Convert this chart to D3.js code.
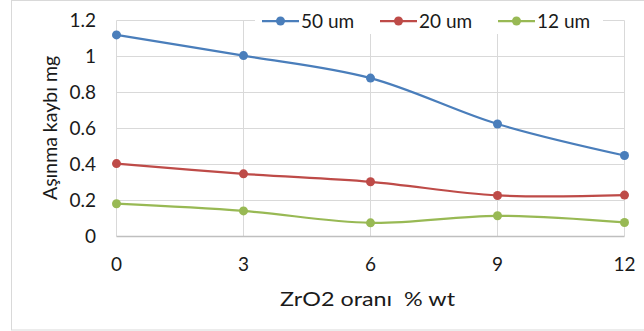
<!DOCTYPE html>
<html>
<head>
<meta charset="utf-8">
<script src="https://cdn.jsdelivr.net/npm/d3@7"></script>
<style>
  body { margin: 0; background: #fff; }
  text { font-family: Lato, "Open Sans", sans-serif; fill: #1a1a1a; }
</style>
</head>
<body>
<div id="chart"></div>
<script>
const xValues = [0, 3, 6, 9, 12];
const seriesNames = ["50 um", "20 um", "12 um"];
const seriesColors = ["#4a7ebb", "#be4b48", "#98b954"];
const values50 = [1.12, 1.005, 0.88, 0.625, 0.45];
const values20 = [0.405, 0.348, 0.304, 0.228, 0.23];
const values12 = [0.182, 0.142, 0.076, 0.115, 0.078];
const yTicks = [0, 0.2, 0.4, 0.6, 0.8, 1, 1.2];

const series = [values50, values20, values12].map((vals, i) => ({
  name: seriesNames[i],
  color: seriesColors[i],
  points: vals.map((v, j) => ({ x: xValues[j], y: v }))
}));

const W = 644, H = 331;
const plot = { left: 116.5, right: 624.5, top: 20.5, bottom: 236.5 };

const svg = d3.select("#chart").append("svg")
  .attr("width", W).attr("height", H);

// chart frame
svg.append("rect")
  .attr("x", 11.5).attr("y", 0.5)
  .attr("width", 700).attr("height", 329.5)
  .attr("fill", "#fff").attr("stroke", "#d9d9d9");

const x = d3.scaleLinear().domain([0, 12]).range([plot.left, plot.right]);
const y = d3.scaleLinear().domain([0, 1.2]).range([plot.bottom, plot.top]);

// gridlines
svg.append("g").selectAll("line")
  .data(yTicks.slice(1))
  .join("line")
  .attr("x1", plot.left).attr("x2", plot.right)
  .attr("y1", d => y(d)).attr("y2", d => y(d))
  .attr("stroke", "#d9d9d9").attr("stroke-width", 1);

svg.append("g").selectAll("line")
  .data(xValues)
  .join("line")
  .attr("x1", d => x(d)).attr("x2", d => x(d))
  .attr("y1", plot.top).attr("y2", plot.bottom)
  .attr("stroke", "#d9d9d9").attr("stroke-width", 1);

// bottom axis line
svg.append("line")
  .attr("x1", plot.left).attr("x2", plot.right)
  .attr("y1", plot.bottom).attr("y2", plot.bottom)
  .attr("stroke", "#bfbfbf").attr("stroke-width", 1.5);

// y tick labels
svg.append("g").selectAll("text")
  .data(yTicks)
  .join("text")
  .attr("x", 96).attr("y", d => y(d))
  .attr("dy", "0.36em")
  .attr("text-anchor", "end")
  .attr("font-size", 19)
  .text(d => d3.format("~g")(d));

// x tick labels
svg.append("g").selectAll("text")
  .data(xValues)
  .join("text")
  .attr("x", d => x(d)).attr("y", 264)
  .attr("dy", "0.36em")
  .attr("text-anchor", "middle")
  .attr("font-size", 19)
  .text(d => d);

// axis titles
svg.append("text")
  .attr("x", 280).attr("y", 299)
  .attr("dy", "0.36em")
  .attr("font-size", 19.5)
  .attr("textLength", 175)
  .attr("lengthAdjust", "spacingAndGlyphs")
  .attr("xml:space", "preserve")
  .text("ZrO2 oranı  % wt");

svg.append("text")
  .attr("transform", "translate(50,128) rotate(-90)")
  .attr("dy", "0.36em")
  .attr("text-anchor", "middle")
  .attr("font-size", 19.5)
  .text("Aşınma kaybı mg");

// lines
const line = d3.line()
  .x(d => x(d.x)).y(d => y(d.y))
  .curve(d3.curveCatmullRom.alpha(0.5));

const sg = svg.append("g").selectAll("g")
  .data(series)
  .join("g");

sg.append("path")
  .attr("d", d => line(d.points))
  .attr("fill", "none")
  .attr("stroke", d => d.color)
  .attr("stroke-width", 2.25);

sg.selectAll("circle")
  .data(d => d.points.map(p => ({ ...p, color: d.color })))
  .join("circle")
  .attr("cx", d => x(d.x)).attr("cy", d => y(d.y))
  .attr("r", 4.5)
  .attr("fill", d => d.color);

// legend
const legendX = [262, 380, 498];
const legend = svg.append("g");
legend.append("rect")
  .attr("x", 255).attr("y", 8)
  .attr("width", 348).attr("height", 26)
  .attr("fill", "#fff");

const li = legend.selectAll("g")
  .data(series)
  .join("g")
  .attr("transform", (d, i) => `translate(${legendX[i]},21)`);

li.append("line")
  .attr("x1", 0).attr("x2", 37)
  .attr("stroke", d => d.color).attr("stroke-width", 2.25);
li.append("circle")
  .attr("cx", 18.5).attr("r", 4.5)
  .attr("fill", d => d.color);
li.append("text")
  .attr("x", 39).attr("dy", "0.36em")
  .attr("font-size", 19)
  .text(d => d.name);
</script>
</body>
</html>
